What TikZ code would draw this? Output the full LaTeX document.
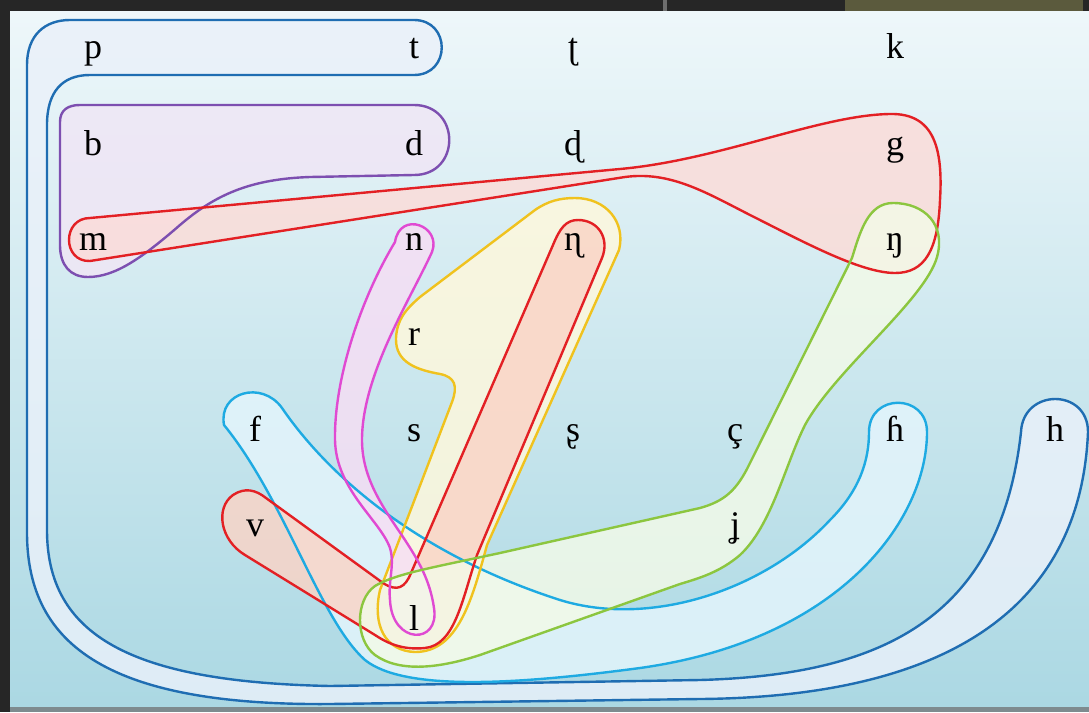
\documentclass[tikz,border=0pt]{standalone}
\usepackage{fontspec}
\setmainfont{Liberation Serif}
\definecolor{frameD}{HTML}{262626}
\definecolor{oliveT}{HTML}{5B5A3D}
\definecolor{sepG}{HTML}{6E6E6E}
\definecolor{botG}{HTML}{7E8B8F}
\definecolor{bgTop}{HTML}{EEF7FA}
\definecolor{bgBot}{HTML}{ABD8E3}
\definecolor{blueL}{HTML}{1F6DB2}
\definecolor{blueF}{HTML}{EAF1FA}
\definecolor{purpL}{HTML}{7D4FB0}
\definecolor{purpF}{HTML}{F0E6F5}
\definecolor{redL}{HTML}{E32024}
\definecolor{redF}{HTML}{FCDCD8}
\definecolor{red2F}{HTML}{FAD4C6}
\definecolor{cyanL}{HTML}{1EAAE2}
\definecolor{cyanF}{HTML}{E4F5FC}
\definecolor{yelL}{HTML}{F0C21E}
\definecolor{yelF}{HTML}{FFF8DC}
\definecolor{pinkL}{HTML}{E04AD2}
\definecolor{pinkF}{HTML}{F6DEF4}
\definecolor{greenL}{HTML}{8CC63F}
\definecolor{greenF}{HTML}{F3FAE8}
\begin{document}
\begin{tikzpicture}[x=1pt,y=-1pt,line join=round,
  hullfill/.style={fill opacity=0.82},
  hullline/.style={line width=2.4pt},
  letter/.style={anchor=base, inner sep=0pt, text=black, font=\fontsize{36}{40}\selectfont}]
\useasboundingbox (0,0) rectangle (1089,712);
% frame and panel
\fill[frameD] (0,0) rectangle (1089,712);
\fill[oliveT] (845,0) rectangle (1083,11);
\fill[sepG] (663,0) rectangle (667,11);
\shade[top color=bgTop, bottom color=bgBot] (10,11) rectangle (1089,707);
\fill[botG] (10,707) rectangle (1089,712);

% hull outlines stored as paths
\path[save path=\hullBlue] (70,20) -- (414,20) .. controls (451,20) and (451,75) .. (414,75) -- (90,75) .. controls (62,75) and (47,92) .. (47,125) -- (47,530) .. controls (47,635) and (130,682) .. (330,686) -- (700,680) .. controls (880,675) and (1000,620) .. (1021,432) .. controls (1023,388) and (1088,388) .. (1088,432) .. controls (1080,620) and (930,697) .. (700,699) -- (330,704) .. controls (100,706) and (26,640) .. (27,530) -- (27,65) .. controls (27,35) and (45,20) .. (70,20) -- cycle;
\path[save path=\hullPurple] (80,105) -- (414,105) .. controls (461,105) and (461,175) .. (414,175) -- (310,177) .. controls (250,179) and (215,195) .. (180,225) .. controls (142,258) and (115,277) .. (88,277) .. controls (70,277) and (60,265) .. (60,245) -- (60,122) .. controls (60,110) and (68,105) .. (80,105) -- cycle;
\path[save path=\hullRedA] (90,218) -- (620,169) .. controls (720,160) and (820,115) .. (890,114) .. controls (935,113) and (943,150) .. (940,200) .. controls (938,250) and (925,273) .. (895,273) .. controls (860,273) and (800,240) .. (750,215) .. controls (705,192) and (670,171) .. (625,177) -- (90,261) .. controls (62,262) and (62,218) .. (90,218) -- cycle;
\path[save path=\hullCyan] (224,425) .. controls (218,392) and (262,380) .. (282,408) .. controls (330,478) and (420,555) .. (560,600) .. controls (650,628) and (765,590) .. (830,520) .. controls (860,490) and (869,460) .. (869,432) .. controls (869,393) and (927,393) .. (927,432) .. controls (927,520) and (840,640) .. (640,668) .. controls (520,684) and (405,692) .. (365,660) .. controls (320,620) and (285,500) .. (224,425) -- cycle;
\path[save path=\hullYellow] (575,198) .. controls (606,198) and (626,222) .. (619,250) -- (487,545) .. controls (472,600) and (458,652) .. (415,652) .. controls (385,651) and (372,625) .. (380,590) -- (452,402) .. controls (458,386) and (455,377) .. (440,374) .. controls (418,370) and (395,363) .. (396,338) .. controls (397,320) and (405,310) .. (420,297) -- (535,210) .. controls (548,201) and (560,198) .. (575,198) -- cycle;
\path[save path=\hullRedB] (578,220) .. controls (598,220) and (610,238) .. (602,258) -- (477,555) .. controls (462,600) and (455,645) .. (425,648) .. controls (405,650) and (390,645) .. (375,635) -- (245,555) .. controls (220,540) and (215,508) .. (233,495) .. controls (245,487) and (256,490) .. (266,498) -- (383,583) .. controls (397,592) and (405,588) .. (411,573) -- (553,245) .. controls (560,228) and (566,220) .. (578,220) -- cycle;
\path[save path=\hullPink] (395,242) .. controls (360,300) and (334,380) .. (335,440) .. controls (336,490) and (380,520) .. (390,548) .. controls (395,565) and (388,580) .. (390,600) .. controls (392,645) and (440,645) .. (434,608) .. controls (430,580) and (418,560) .. (405,540) .. controls (385,510) and (362,480) .. (362,440) .. controls (362,375) and (410,300) .. (432,252) .. controls (442,226) and (400,210) .. (395,242) -- cycle;
\path[save path=\hullGreen] (893,203) .. controls (925,203) and (946,225) .. (937,257) .. controls (925,300) and (835,370) .. (805,425) .. controls (785,465) and (772,525) .. (740,555) .. controls (720,572) and (700,578) .. (680,584) -- (480,655) .. controls (440,668) and (400,673) .. (375,655) .. controls (355,640) and (355,600) .. (375,586) .. controls (395,574) and (430,568) .. (500,553) -- (700,508) .. controls (725,501) and (737,490) .. (750,463) -- (852,258) .. controls (860,232) and (868,203) .. (893,203) -- cycle;

% fills
\fill[hullfill, blueF, use path=\hullBlue];
\fill[hullfill, purpF, use path=\hullPurple];
\fill[hullfill, redF, use path=\hullRedA];
\fill[hullfill, cyanF, use path=\hullCyan];
\fill[hullfill, yelF, use path=\hullYellow];
\fill[hullfill, red2F, use path=\hullRedB];
\fill[hullfill, pinkF, use path=\hullPink];
\fill[hullfill, greenF, use path=\hullGreen];

% outlines
\draw[hullline, blueL, use path=\hullBlue];
\draw[hullline, purpL, use path=\hullPurple];
\draw[hullline, redL, use path=\hullRedA];
\draw[hullline, cyanL, use path=\hullCyan];
\draw[hullline, yelL, use path=\hullYellow];
\draw[hullline, redL, use path=\hullRedB];
\draw[hullline, pinkL, use path=\hullPink];
\draw[hullline, greenL, use path=\hullGreen];

% letters
\node[letter] (p) at (93,58) {p};
\node[letter] (t) at (414,58) {t};
\node[letter] (tr) at (573,58) {ʈ};
\node[letter] (k) at (895,58) {k};
\node[letter] (b) at (93,155) {b};
\node[letter] (d) at (414,155) {d};
\node[letter] (dr) at (573,155) {ɖ};
\node[letter] (g) at (895,155) {g};
\node[letter] (m) at (93,250) {m};
\node[letter] (n) at (414,250) {n};
\node[letter] (nr) at (573,250) {ɳ};
\node[letter] (ng) at (895,250) {ŋ};
\node[letter] (r) at (414,345) {r};
\node[letter] (f) at (255,441) {f};
\node[letter] (s) at (414,441) {s};
\node[letter] (sr) at (573,441) {ʂ};
\node[letter] (cc) at (735,441) {ç};
\node[letter] (hh) at (895,441) {ɦ};
\node[letter] (h) at (1055,441) {h};
\node[letter] (v) at (255,536) {v};
\node[letter] (jj) at (735,536) {ʝ};
\node[letter] (l) at (414,630) {l};
\end{tikzpicture}
\end{document}
